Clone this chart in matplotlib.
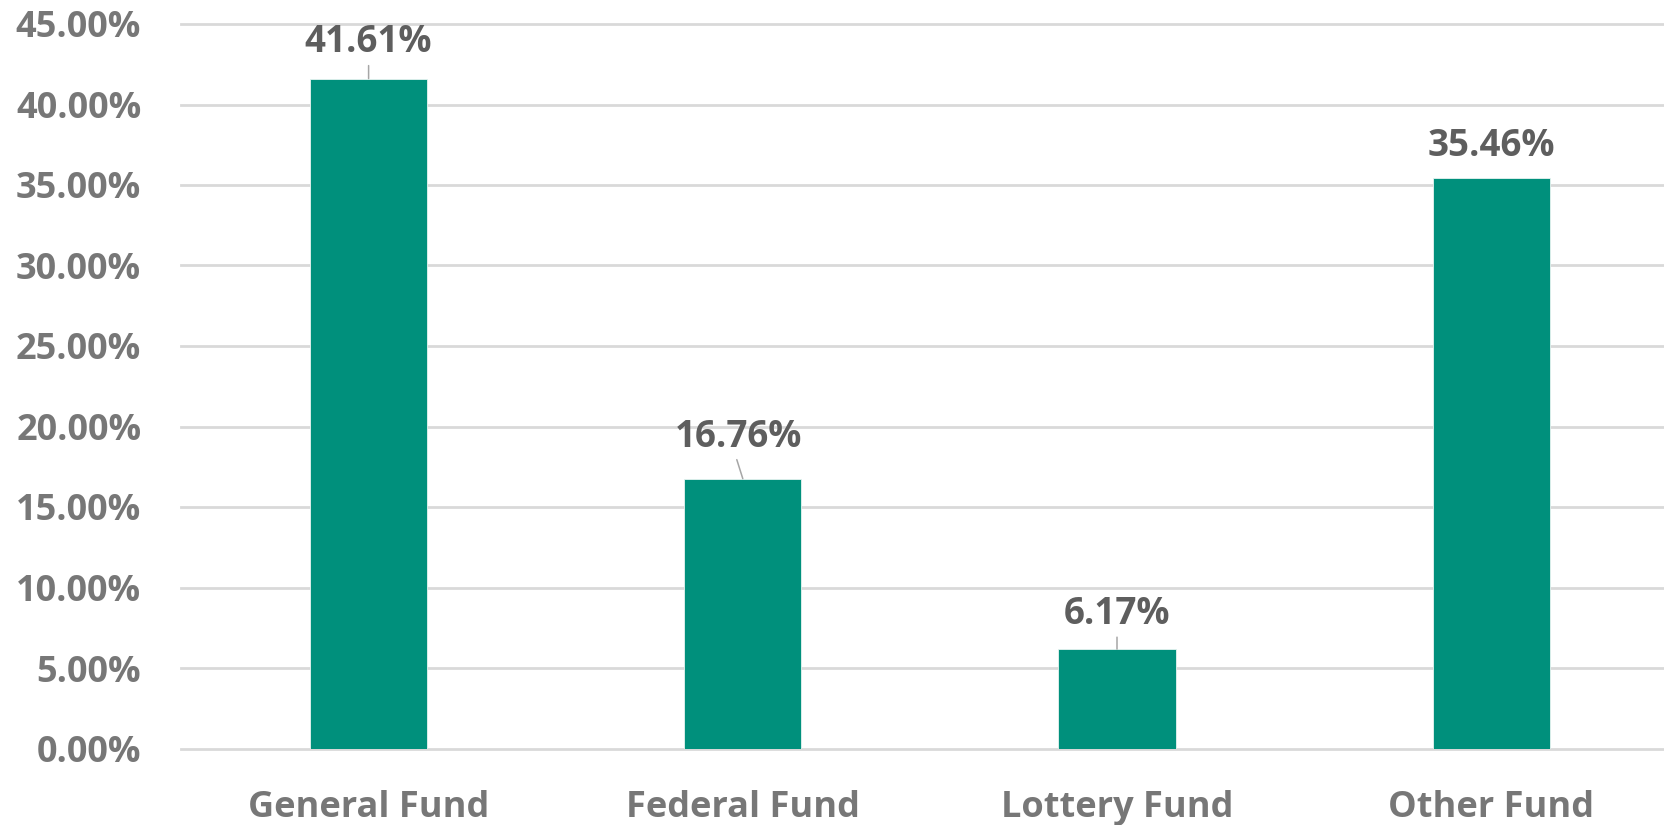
import matplotlib
matplotlib.use("Agg")
import matplotlib.pyplot as plt
from matplotlib.ticker import FuncFormatter

categories = ["General Fund", "Federal Fund", "Lottery Fund", "Other Fund"]
values = [41.61, 16.76, 6.17, 35.46]
value_labels = ["41.61%", "16.76%", "6.17%", "35.46%"]
yticks = [0, 5, 10, 15, 20, 25, 30, 35, 40, 45]

# label offsets (pixels) from bar top, and whether a leader line is drawn
label_offsets = [(0, 37), (-4, 42), (0, 35), (0, 32)]
leaders = [(0, 13), (-6, 19), (0, 12), None]

plt.rcParams['font.family'] = ['Open Sans', 'DejaVu Sans']
plt.rcParams['font.weight'] = 'bold'

fig = plt.figure(figsize=(16.65, 8.25), dpi=100)
ax = fig.add_axes([181.5 / 1665, 76.5 / 825, 4 * 374.2 / 1665, 724.5 / 825])

x = list(range(len(categories)))
ax.bar(x, values, width=0.313, color="#00907C", edgecolor="#E8F4F1", linewidth=0.6, zorder=3)

ax.set_xlim(-0.5, len(categories) - 0.5)
ax.set_ylim(0, 45)
ax.set_yticks(yticks)
ax.yaxis.set_major_formatter(FuncFormatter(lambda v, p: f"{v:.2f}%"))
ax.set_xticks(x)
ax.set_xticklabels(categories)

ax.grid(axis='y', color="#D9D9D9", linewidth=2.0, zorder=0)
ax.grid(axis='x', visible=False)
for gl in ax.get_ygridlines():
    gl.set_clip_on(False)
for s in ax.spines.values():
    s.set_visible(False)

ax.tick_params(axis='y', length=0, pad=29, labelsize=26, labelcolor="#777777")
ax.tick_params(axis='x', length=0, pad=30, labelsize=26, labelcolor="#777777")
for t in ax.get_yticklabels() + ax.get_xticklabels():
    t.set_fontweight('bold')

for i, v in enumerate(values):
    if leaders[i] is not None:
        ax.annotate("", xy=(i, v), xycoords='data',
                    xytext=leaders[i], textcoords='offset pixels',
                    arrowprops=dict(arrowstyle='-', color="#A6A6A6", lw=1.1,
                                    shrinkA=0, shrinkB=0), zorder=4)
    ax.annotate(value_labels[i], xy=(i, v), xycoords='data',
                xytext=label_offsets[i], textcoords='offset pixels',
                ha='center', va='center', fontsize=26.5, fontweight='bold',
                color="#5E5E5E", zorder=5)

fig.savefig("out.png", dpi=100)
